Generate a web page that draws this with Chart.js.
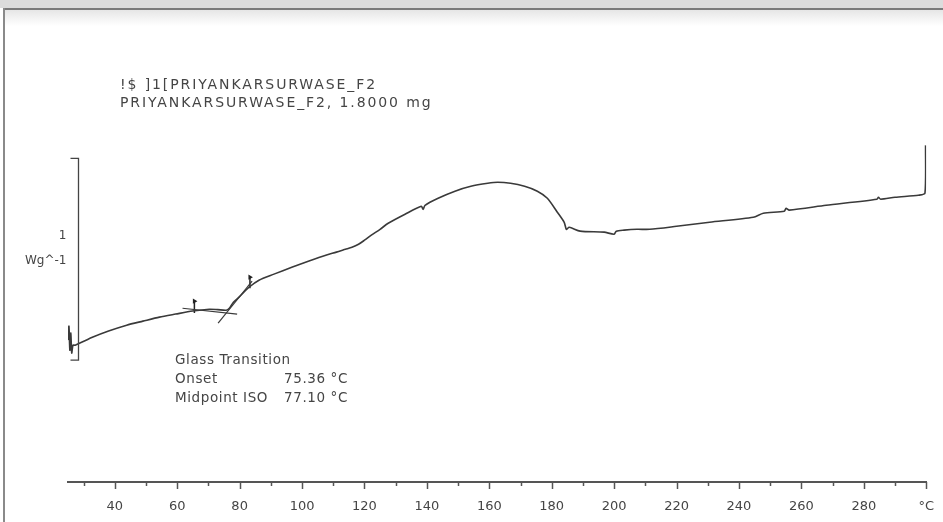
<!DOCTYPE html>
<html>
<head>
<meta charset="utf-8">
<script src="https://cdn.jsdelivr.net/npm/chart.js@4.4.1/dist/chart.umd.min.js"></script>
<style>
  html, body { margin:0; padding:0; background:#fff; width:943px; height:522px; overflow:hidden; }
  #band { position:absolute; left:0; top:0; width:943px; height:8px; background:#dcdcdc; }
  #topline { position:absolute; left:3px; top:8px; width:940px; height:2px; background:#7a7a7a; }
  #fade { position:absolute; left:5px; top:10px; width:938px; height:16px; background:linear-gradient(#e6e6e6,#ffffff); }
  #leftline { position:absolute; left:3px; top:8px; width:2px; height:514px; background:#8a8a8a; }
  canvas { position:absolute; left:0; top:0; }
</style>
</head>
<body>
<div id="band"></div><div id="topline"></div><div id="fade"></div><div id="leftline"></div>
<canvas id="c" width="943" height="522"></canvas>
<script>
// ---- data (temperature in °C, heat flow in W/g, arbitrary offset) ----
const temperature = [25.0, 25.3, 25.6, 25.9, 26.2, 26.6, 27.3, 33.0, 38.0, 43.8, 49.0, 54.3, 59.5, 64.9, 70.3, 73.0, 75.7, 76.7, 78.0, 79.8, 83.0, 86.2, 91.0, 96.7, 102.0, 107.6, 111.0, 113.9, 116.0, 118.1, 120.0, 122.2, 125.0, 127.6, 133.0, 138.2, 138.8, 139.4, 143.6, 149.0, 154.1, 159.5, 162.7, 166.8, 171.3, 175.4, 178.6, 181.8, 184.0, 184.7, 185.6, 189.1, 196.8, 200.0, 200.7, 203.2, 207.3, 211.4, 220.0, 230.6, 244.6, 247.8, 254.5, 255.1, 256.1, 267.9, 284.2, 284.7, 285.4, 290.0, 297.5, 299.6, 299.8];
const heatFlow = [0.703, 0.772, 0.653, 0.738, 0.639, 0.678, 0.678, 0.718, 0.748, 0.777, 0.797, 0.817, 0.832, 0.847, 0.856, 0.854, 0.851, 0.861, 0.891, 0.916, 0.965, 1.000, 1.030, 1.064, 1.094, 1.124, 1.139, 1.153, 1.163, 1.178, 1.198, 1.223, 1.252, 1.282, 1.327, 1.366, 1.351, 1.371, 1.406, 1.441, 1.465, 1.480, 1.485, 1.480, 1.465, 1.441, 1.406, 1.337, 1.287, 1.252, 1.262, 1.243, 1.238, 1.228, 1.243, 1.248, 1.252, 1.252, 1.267, 1.287, 1.312, 1.332, 1.342, 1.356, 1.347, 1.371, 1.401, 1.411, 1.401, 1.411, 1.421, 1.431, 1.668];

// glass transition construction lines
const tangentBaseT = [61.7, 79.2];
const tangentBaseY = [0.861, 0.832];
const tangentStepT = [73.1, 84.0];
const tangentStepY = [0.787, 0.995];
const flagT = [65.5, 83.3];
const flagYLow = [0.837, 0.960];
const flagYHigh = [0.896, 1.015];

// axis
const xMin = 25, xMax = 300;
const tickValues = [30, 40, 50, 60, 70, 80, 90, 100, 110, 120, 130, 140, 150, 160, 170, 180, 190, 200, 210, 220, 230, 240, 250, 260, 270, 280, 290, 300];
const tickLabels = ['', '40', '', '60', '', '80', '', '100', '', '120', '', '140', '', '160', '', '180', '', '200', '', '220', '', '240', '', '260', '', '280', '', '°C'];

// scale bar (1 W/g)
const scaleBarT = 28.2;
const scaleBarY = [0.604, 1.604];
const scaleBarLabel = ['1', 'Wg^-1'];

// texts
const headerLines = ['!$ ]1[PRIYANKARSURWASE_F2', 'PRIYANKARSURWASE_F2, 1.8000 mg'];
const gtTitle = 'Glass Transition';
const gtRows = [['Onset', '75.36 °C'], ['Midpoint ISO', '77.10 °C']];

const FONT = '"DejaVu Sans", Verdana, sans-serif';
const TXT = '#454545';

const datasets = [{
  data: temperature.map((t, i) => ({x: t, y: heatFlow[i]})),
  borderColor: '#3a3a3a', borderWidth: 1.6, pointRadius: 0, tension: 0.25, fill: false
}, {
  data: tangentBaseT.map((t, i) => ({x: t, y: tangentBaseY[i]})),
  borderColor: '#3a3a3a', borderWidth: 1.2, pointRadius: 0, tension: 0
}, {
  data: tangentStepT.map((t, i) => ({x: t, y: tangentStepY[i]})),
  borderColor: '#3a3a3a', borderWidth: 1.2, pointRadius: 0, tension: 0
}];
flagT.forEach((t, i) => {
  datasets.push({
    data: [{x: t, y: flagYLow[i]}, {x: t, y: flagYHigh[i]}],
    borderColor: '#222', borderWidth: 1.5, tension: 0,
    pointRadius: [0, 3], pointStyle: 'triangle', rotation: 90,
    pointBackgroundColor: '#222', pointBorderColor: '#222', pointBorderWidth: 0
  });
});

const overlay = {
  id: 'overlay',
  afterDraw(chart) {
    const ctx = chart.ctx, xs = chart.scales.x, ys = chart.scales.y;
    ctx.save();
    // x tick marks
    ctx.strokeStyle = '#555'; ctx.lineWidth = 1.5;
    const base = chart.chartArea.bottom;
    tickValues.forEach(v => {
      const px = Math.round(xs.getPixelForValue(v)) + 0.5;
      const len = (v % 20 === 0) ? 7 : 4;
      ctx.beginPath(); ctx.moveTo(px, base); ctx.lineTo(px, base + len); ctx.stroke();
    });
    // scale bar
    const bx = Math.round(xs.getPixelForValue(scaleBarT)) + 0.5;
    const by0 = ys.getPixelForValue(scaleBarY[0]), by1 = ys.getPixelForValue(scaleBarY[1]);
    ctx.strokeStyle = '#444'; ctx.lineWidth = 1.3;
    ctx.beginPath();
    ctx.moveTo(bx - 8, by1); ctx.lineTo(bx, by1); ctx.lineTo(bx, by0); ctx.lineTo(bx - 8, by0);
    ctx.stroke();
    ctx.fillStyle = TXT; ctx.font = '12px ' + FONT; ctx.textAlign = 'right'; ctx.textBaseline = 'middle';
    const mid = (by0 + by1) / 2;
    ctx.fillText(scaleBarLabel[0], bx - 12, mid - 23);
    ctx.fillText(scaleBarLabel[1], bx - 12, mid + 2);
    // header
    ctx.textAlign = 'left';
    ctx.font = '14px ' + FONT;
    ctx.letterSpacing = '1.9px';
    ctx.fillText(headerLines[0], 120, 85);
    ctx.fillText(headerLines[1], 120, 103);
    // glass transition result
    ctx.font = '13.5px ' + FONT;
    ctx.letterSpacing = '0.6px';
    ctx.fillText(gtTitle, 175, 360);
    ctx.fillText(gtRows[0][0], 175, 379);
    ctx.fillText(gtRows[1][0], 175, 398);
    ctx.textAlign = 'right';
    ctx.fillText(gtRows[0][1], 348, 379);
    ctx.fillText(gtRows[1][1], 348, 398);
    ctx.restore();
  }
};

new Chart(document.getElementById('c'), {
  type: 'line',
  data: { datasets },
  plugins: [overlay],
  options: {
    responsive: false, animation: false, devicePixelRatio: 1,
    layout: { padding: { left: 68, right: 12, top: 38, bottom: 0 } },
    plugins: { legend: { display: false }, tooltip: { enabled: false } },
    scales: {
      x: {
        type: 'linear', min: xMin, max: xMax,
        afterBuildTicks: axis => { axis.ticks = tickValues.map(v => ({value: v})); },
        afterFit: axis => { axis.height = 40; },
        grid: { display: false },
        border: { display: true, color: '#555', width: 2 },
        ticks: {
          autoSkip: false, maxRotation: 0, padding: 9,
          color: TXT, font: { family: FONT, size: 13 },
          callback: (v) => { const i = tickValues.indexOf(v); return i >= 0 ? tickLabels[i] : ''; }
        }
      },
      y: { type: 'linear', display: false, min: 0, max: 2.2 }
    }
  }
});
</script>
</body>
</html>
